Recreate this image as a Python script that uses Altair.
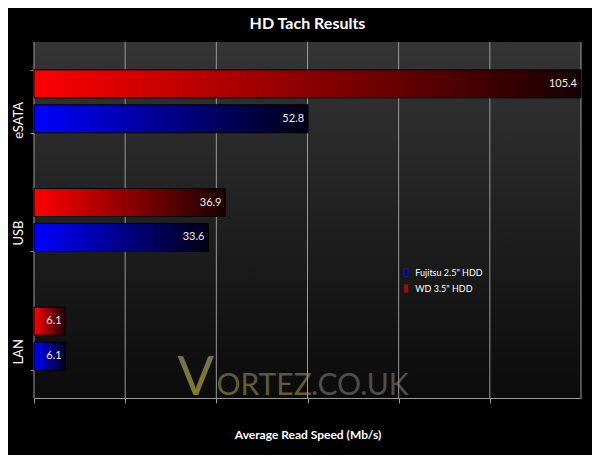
import altair as alt
import pandas as pd

# ---- data ----
categories = ["eSATA", "USB", "LAN"]
series = ['Fujitsu 2.5" HDD', 'WD 3.5" HDD']
fujitsu = [52.8, 33.6, 6.1]
wd = [105.4, 36.9, 6.1]

rows = []
for i, c in enumerate(categories):
    rows.append({"interface": c, "drive": series[0], "speed": fujitsu[i]})
    rows.append({"interface": c, "drive": series[1], "speed": wd[i]})
df = pd.DataFrame(rows)

XMAX = max(wd + fujitsu)
grid_vals = [XMAX * i / 6 for i in range(7)]
grid_df = pd.DataFrame({"v": grid_vals})

W, H = 547, 356
FONT = "Lato"
GRID = "#9a9a9a"


def hgrad(c0, c1):
    return {"gradient": "linear", "x1": 0, "x2": 1, "y1": 0, "y2": 0,
            "stops": [{"offset": 0, "color": c0}, {"offset": 1, "color": c1}]}


def vgrad(c0, c1):
    return {"gradient": "linear", "x1": 0, "x2": 0, "y1": 0, "y2": 1,
            "stops": [{"offset": 0, "color": c0}, {"offset": 1, "color": c1}]}


x_enc = alt.X(
    "speed:Q",
    scale=alt.Scale(domain=[0, XMAX], nice=False, zero=True),
    axis=alt.Axis(values=grid_vals, labels=False, ticks=True, tickSize=5,
                  tickColor=GRID, domainColor=GRID, grid=False,
                  title="Average Read Speed (Mb/s)", titleColor="white",
                  titleFont=FONT, titleFontSize=12, titleFontWeight="bold",
                  titlePadding=26),
)
y_enc = alt.Y(
    "interface:N", sort=categories,
    scale=alt.Scale(paddingInner=0.47, paddingOuter=0.235),
    axis=alt.Axis(title=None, tickBand="extent", labelAngle=270,
                  labelAlign="right", labelBaseline="bottom",
                  labelColor="white", labelFont=FONT, labelFontSize=13,
                  labelPadding=5, tickSize=4, tickColor=GRID,
                  domainColor=GRID, grid=False),
)
yoff_enc = alt.YOffset("drive:N", sort=[series[1], series[0]],
                       scale=alt.Scale(paddingInner=0.2, paddingOuter=0))
color_enc = alt.Color(
    "drive:N",
    scale=alt.Scale(domain=series, range=["#0000c0", "#c00000"]),
    legend=alt.Legend(title=None, orient="none", legendX=367.6, legendY=226,
                      direction="vertical", labelColor="white",
                      labelFont=FONT, labelFontSize=9,
                      symbolType="M-0.5,-1H0.5V1H-0.5Z", symbolSize=64,
                      symbolStrokeColor="#333", symbolStrokeWidth=0.5,
                      labelOffset=4.7, rowPadding=5, padding=0),
)

base = alt.Chart(df)

# legend source: bars coloured by series, hidden beneath the plot background
legend_layer = base.mark_bar().encode(
    x=x_enc, y=y_enc, yOffset=yoff_enc, color=color_enc
)

background = alt.Chart(grid_df).transform_filter("datum.v == 0").mark_rect(
    color=vgrad("#353535", "#0b0b0b")
).encode(x=alt.value(0), x2=alt.value("width"), y=alt.value(0), y2=alt.value("height"))

wm_v = alt.Chart(pd.DataFrame({"t": ["V"]})).mark_text(
    align="left", baseline="alphabetic", font=FONT, fontSize=54,
    color=vgrad("#707060", "#8a7c14"),
).encode(text="t:N", x=alt.value(143.6), y=alt.value(353.3))
wm_ortez = alt.Chart(pd.DataFrame({"t": ["ORTEZ"]})).mark_text(
    align="left", baseline="alphabetic", font=FONT, fontSize=30,
    color=vgrad("#555550", "#6a6020"),
).encode(text="t:N", x=alt.value(182.5), y=alt.value(353.3))
wm_couk = alt.Chart(pd.DataFrame({"t": [".CO.UK"]})).mark_text(
    align="left", baseline="alphabetic", font=FONT, fontSize=30,
    color="#4e4e4e",
).encode(text="t:N", x=alt.value(277), y=alt.value(353.3))

gridlines = alt.Chart(grid_df).mark_rule(color=GRID, strokeWidth=1).encode(
    x=alt.X("v:Q"), y=alt.value(0), y2=alt.value("height")
)

bars_wd = base.transform_filter(
    alt.FieldEqualPredicate(field="drive", equal=series[1])
).mark_bar(stroke="#000", strokeWidth=1).encode(
    x=x_enc, y=y_enc, yOffset=yoff_enc,
    fill=alt.value(hgrad("#ff0000", "#180000")),
)
bars_fj = base.transform_filter(
    alt.FieldEqualPredicate(field="drive", equal=series[0])
).mark_bar(stroke="#000", strokeWidth=1).encode(
    x=x_enc, y=y_enc, yOffset=yoff_enc,
    fill=alt.value(hgrad("#0000ff", "#000014")),
)
labels = base.mark_text(
    align="right", baseline="middle", dx=-4, color="#f0f0f0",
    font=FONT, fontSize=11,
).encode(x=x_enc, y=y_enc, yOffset=yoff_enc,
         text=alt.Text("speed:Q", format=".1f"))

chart = alt.layer(
    legend_layer, background, wm_v, wm_ortez, wm_couk, gridlines,
    bars_wd, bars_fj, labels
).properties(
    width=W, height=H,
    title=alt.TitleParams("HD Tach Results", color="white", font=FONT,
                          fontSize=16, fontWeight="bold", anchor="middle",
                          offset=10),
    background="#000000",
    padding={"left": 26, "top": 34, "right": 11, "bottom": 57},
    autosize=alt.AutoSizeParams(type="none"),
).configure_view(stroke="transparent")

chart.save("out.html", embed_options={"renderer": "svg", "actions": False})
